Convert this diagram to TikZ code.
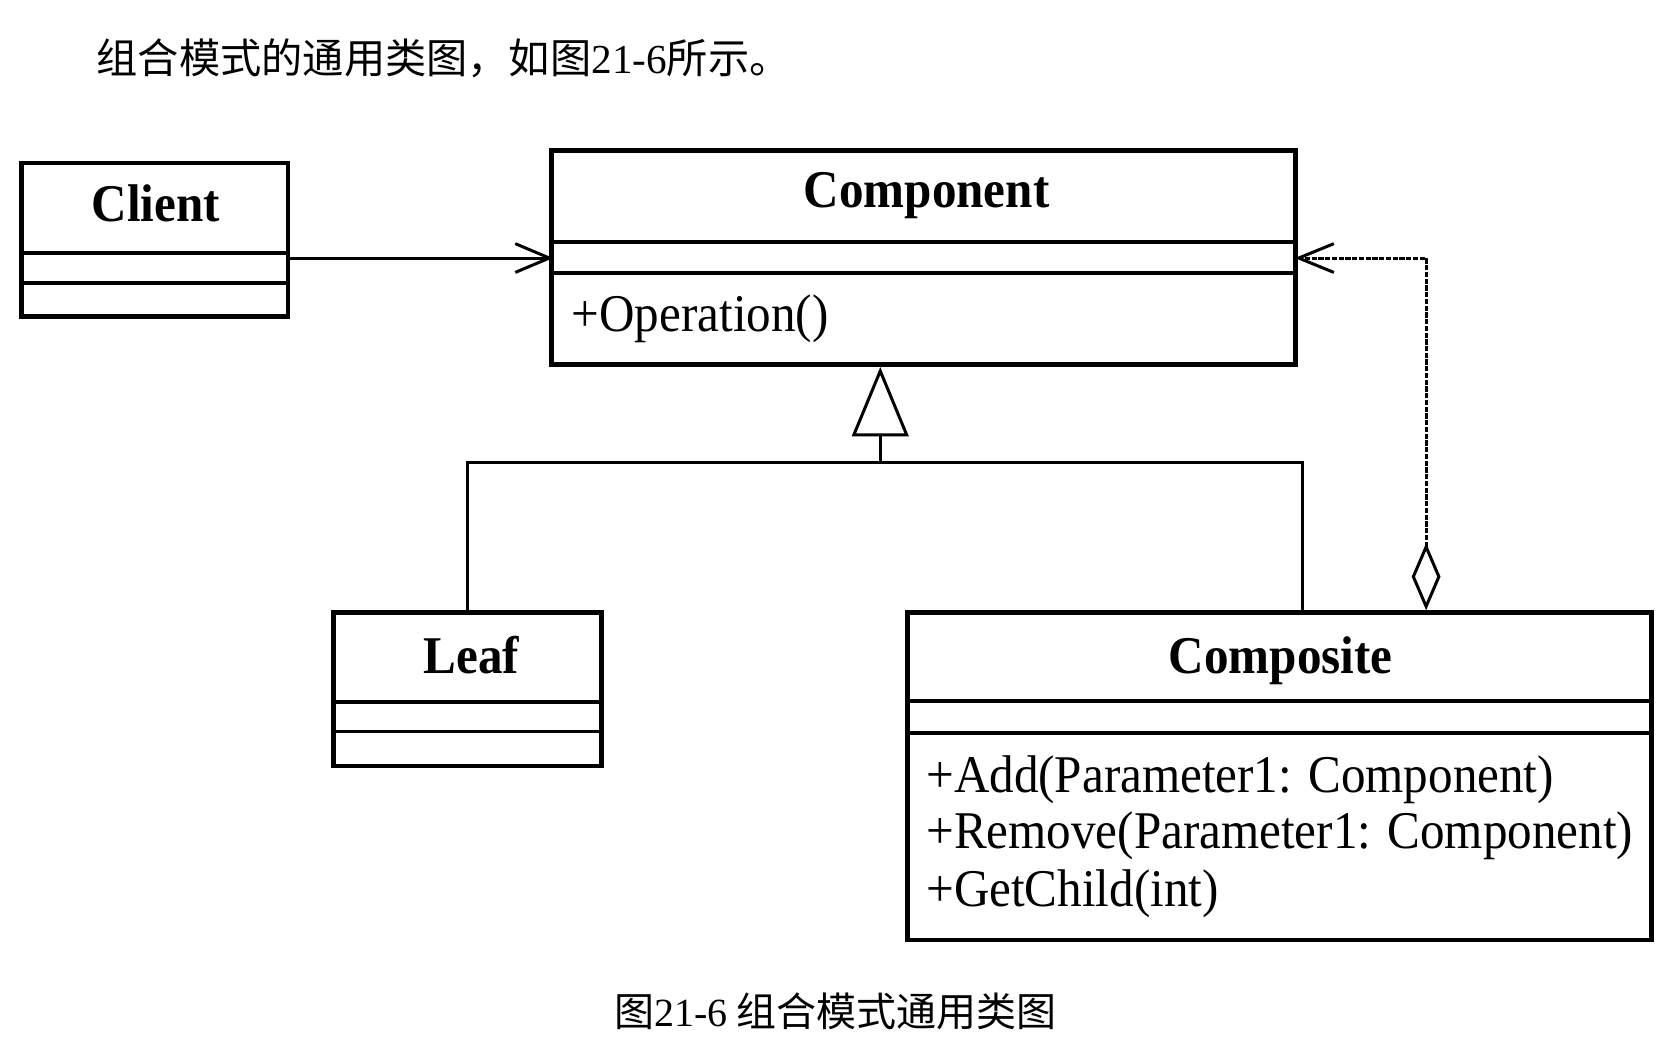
\documentclass[tikz,border=0pt]{standalone}
\usepackage{fontspec}
\setmainfont{Liberation Serif}
\newfontfamily\cjk{Noto Sans CJK SC}
\usetikzlibrary{arrows.meta}
\newcommand{\stretchtxt}[1]{\scalebox{1}[1.08]{#1}}
\tikzset{
  classbox/.style={draw, line width=1.25pt, inner sep=0pt, fill=white},
  divider/.style={line width=1.05pt},
  classname/.style={font=\bfseries\fontsize{13.1}{15}\selectfont, anchor=base, inner sep=0pt},
  member/.style={font=\fontsize{13.1}{15}\selectfont, anchor=base west, inner sep=0pt},
  conn/.style={line width=0.8pt},
  aggline/.style={dash pattern=on 1.4pt off 0.4pt},
  titletext/.style={font=\fontsize{11.0}{13}\selectfont, inner sep=0pt},
  captiontext/.style={font=\fontsize{10.67}{13}\selectfont, inner sep=0pt}
}
\begin{document}
\begin{tikzpicture}[x=1cm,y=1cm]
\useasboundingbox[fill=white] (0,0) rectangle (15.68,-9.77);

% title and caption
\node[titletext, anchor=base west] (title) at (0.90,-0.685) {\cjk 组合模式的通用类图，如图{\rmfamily 21-6}所示。};
\node[captiontext, anchor=base] (caption) at (7.835,-9.63) {\cjk 图{\rmfamily 21-6} 组合模式通用类图};

% helper coordinates
\coordinate (ay) at (0,-2.42);
\coordinate (aggx) at (13.374,0);
\coordinate (genx) at (12.21,0);
\coordinate (j) at (8.255,-4.34);

% Client
\node[classbox, minimum width=2.50cm, minimum height=1.44cm] (client) at (1.45,-2.25) {};
\node[classname] (clientname) at (1.46,-2.08) {\stretchtxt{Client}};
\draw[divider] (client.west |- 0,-2.37) -- (client.east |- 0,-2.37);
\draw[divider] (client.west |- 0,-2.65) -- (client.east |- 0,-2.65);

% Component
\node[classbox, minimum width=6.98cm, minimum height=2.01cm] (component) at (8.66,-2.415) {};
\node[classname] (componentname) at (8.69,-1.95) {\stretchtxt{Component}};
\draw[divider] (component.west |- 0,-2.27) -- (component.east |- 0,-2.27);
\draw[divider] (component.west |- 0,-2.56) -- (component.east |- 0,-2.56);
\node[member] (op) at (5.355,-3.11) {\stretchtxt{+Operation()}};

% Leaf
\node[classbox, minimum width=2.51cm, minimum height=1.44cm] (leaf) at (4.385,-6.465) {};
\node[classname] (leafname) at (4.42,-6.315) {\stretchtxt{Leaf}};
\draw[divider] (leaf.west |- 0,-6.58) -- (leaf.east |- 0,-6.58);
\draw[divider] (leaf.west |- 0,-6.86) -- (leaf.east |- 0,-6.86);

% Composite
\node[classbox, minimum width=6.98cm, minimum height=3.07cm] (composite) at (12.00,-7.28) {};
\node[classname] (compositename) at (12.01,-6.32) {\stretchtxt{Composite}};
\draw[divider] (composite.west |- 0,-6.57) -- (composite.east |- 0,-6.57);
\draw[divider] (composite.west |- 0,-6.87) -- (composite.east |- 0,-6.87);
\node[member] (add) at (8.68,-7.43) {\stretchtxt{+Add(Parameter1: Component)}};
\node[member] (remove) at (8.68,-7.96) {\stretchtxt{+Remove(Parameter1: Component)}};
\node[member] (getchild) at (8.68,-8.50) {\stretchtxt{+GetChild(int)}};

% association Client -> Component
\draw[conn, shorten >=-0.04cm, -{Straight Barb[length=0.32cm, width=0.27cm]}] (client.east |- ay) -- (component.west |- ay);

% generalization
\draw[conn] (leaf.north) |- (j);
\draw[conn] (composite.north -| genx) |- (j);
\draw[conn, -{Triangle[open, length=0.65cm, width=0.53cm]}] (j) -- (component.south -| j);

% aggregation
\draw[conn, aggline, shorten >=-0.03cm, {Diamond[open, length=0.63cm, width=0.27cm]}-{Straight Barb[length=0.33cm, width=0.27cm]}] (composite.north -| aggx) |- (component.east |- ay);
\end{tikzpicture}
\end{document}
